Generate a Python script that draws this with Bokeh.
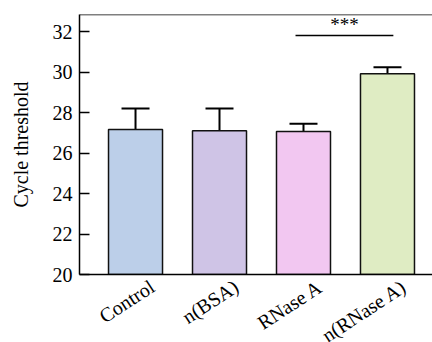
from bokeh.plotting import figure
from bokeh.models import (ColumnDataSource, FixedTicker, CustomJSTickFormatter, Whisker,
                          TeeHead, Span, Label)
from bokeh.embed import file_html
from bokeh.resources import INLINE

categories = ["Control", "n(BSA)", "RNase A", "n(RNase A)"]
means = [27.16, 27.10, 27.06, 29.92]
sds = [1.04, 1.10, 0.38, 0.32]
colors = ["#bccfe9", "#cfc4e6", "#f2c7f1", "#dfecc3"]
y_ticks = [20, 22, 24, 26, 28, 30, 32]
sig_label = "***"
sig_from, sig_to, sig_y = 1.905, 3.07, 31.8

xs = list(range(len(categories)))
src = ColumnDataSource(dict(x=xs, top=means, upper=[m + s for m, s in zip(means, sds)],
                            color=colors))

FONT = "Liberation Serif"
p = figure(output_backend="svg", toolbar_location=None,
           frame_width=353, frame_height=260,
           min_border_left=79, min_border_top=14, min_border_bottom=68, min_border_right=0,
           x_range=(-0.667, 3.536), y_range=(20, 32.84))
p.outline_line_color = None
p.grid.grid_line_color = None
p.background_fill_color = "white"

wh = Whisker(source=src, base="x", lower="top", upper="upper",
             line_color="black", line_width=2,
             upper_head=TeeHead(size=28, line_color="black", line_width=2), lower_head=None)
p.add_layout(wh)

p.vbar(x="x", top="top", bottom=20, width=0.643, source=src, fill_color="color",
       line_color="#111111", line_width=1.5)

# top border line
p.add_layout(Span(location=32.84, dimension="width", line_color="black", line_width=1.5))

# significance
p.segment(x0=[sig_from], y0=[sig_y], x1=[sig_to], y1=[sig_y], line_color="black", line_width=1.5)
p.add_layout(Label(x=(sig_from + sig_to) / 2, y=sig_y, text=sig_label, text_align="center",
                   text_baseline="bottom", y_offset=1, text_font=FONT, text_font_size="19px",
                   text_color="black"))

# y axis
ya = p.yaxis[0]
ya.ticker = FixedTicker(ticks=y_ticks)
ya.axis_label = "Cycle threshold"
ya.axis_label_text_font = FONT
ya.axis_label_text_font_style = "normal"
ya.axis_label_text_font_size = "20px"
ya.axis_label_text_color = "black"
ya.axis_label_standoff = 18
ya.major_label_text_font = FONT
ya.major_label_text_font_size = "20px"
ya.major_label_standoff = 7
ya.major_tick_in = 10
ya.major_tick_out = 0
ya.minor_tick_line_color = None
ya.axis_line_width = 1.5
ya.major_tick_line_width = 1.5
ya.axis_line_color = "black"
ya.major_tick_line_color = "black"
ya.major_label_text_color = "black"

xa = p.xaxis[0]
xa.ticker = FixedTicker(ticks=[i + 0.2 for i in xs])
xa.formatter = CustomJSTickFormatter(args=dict(labels=categories),
                                     code="return labels[Math.round(tick - 0.2)];")
xa.major_label_orientation = 0.58
xa.major_label_text_font = FONT
xa.major_label_text_font_size = "20px"
xa.major_label_standoff = 10
xa.major_tick_in = 0
xa.major_tick_out = 0
xa.minor_tick_line_color = None
xa.axis_line_width = 1.5
xa.axis_line_color = "black"
xa.major_label_text_color = "black"

open("out.html", "w").write(file_html(p, INLINE))
